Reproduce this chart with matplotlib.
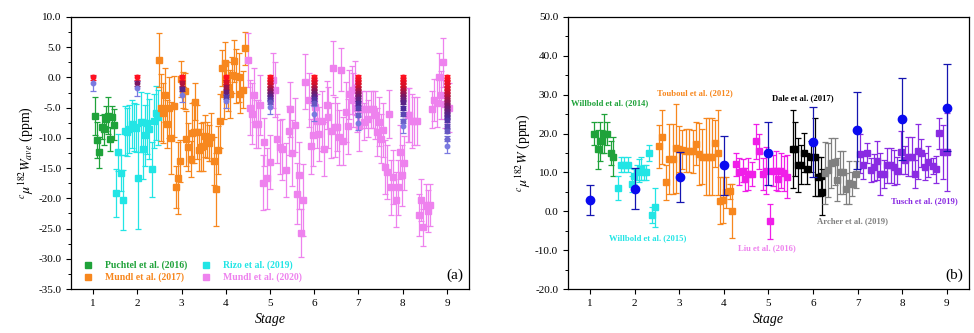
import numpy as np
import matplotlib
matplotlib.use("Agg")
import matplotlib.pyplot as plt
from matplotlib.lines import Line2D
from matplotlib.colors import LinearSegmentedColormap
from matplotlib.ticker import MultipleLocator, FormatStrFormatter

plt.rcParams["font.family"] = "Liberation Serif"
plt.rcParams["mathtext.fontset"] = "stix"
plt.rcParams["font.size"] = 8

# ---------------- panel (a) data ----------------
puchtel_x = [1.05, 1.09, 1.14, 1.19, 1.24, 1.29, 1.34, 1.39, 1.43, 1.48]
puchtel_y = [-6.4, -10.4, -12.4, -8.2, -8.6, -6.8, -6.3, -10.2, -6.5, -7.8]
puchtel_err = [3.2, 3.0, 2.5, 2.0, 2.5, 2.0, 3.0, 2.0, 1.8, 2.5]

rizo_x = [1.52, 1.57, 1.62, 1.67, 1.72, 1.77, 1.82, 1.87, 1.92, 1.97,
          2.02, 2.07, 2.12, 2.17, 2.22, 2.27, 2.32, 2.37, 2.43, 2.47]
rizo_y = [-19.1, -12.4, -15.8, -20.3, -8.8, -9.0, -8.5, -7.7, -8.2, -8.4,
          -16.6, -7.4, -11.8, -9.6, -7.6, -8.5, -15.2, -7.2, -5.9, -6.6]
rizo_err = [4, 3, 3, 5, 4, 4, 4, 4, 4, 4,
            8.5, 5, 5, 5, 5, 5, 4.5, 4.5, 4.5, 4.5]

mundl17_x = [2.49, 2.53, 2.58, 2.63, 2.68, 2.72, 2.77, 2.82, 2.87, 2.92,
             2.96, 2.99, 3.02, 3.07, 3.11, 3.15, 3.21, 3.24, 3.28, 3.31,
             3.35, 3.39, 3.43, 3.48, 3.53, 3.58, 3.63, 3.67, 3.73, 3.77,
             3.82, 3.86, 3.92, 3.95, 3.98, 4.01, 4.04, 4.09, 4.14, 4.19,
             4.24, 4.29, 4.33, 4.38, 4.43]
mundl17_y = [2.9, -5.0, -5.9, -2.9, -7.7, -5.0, -10.0, -4.8, -18.1, -16.6,
             -13.8, -0.2, -2.1, -2.2, -10.1, -11.5, -13.5, -9.2, -9.1, -4.0,
             -9.0, -12.0, -11.5, -11.4, -9.7, -10.4, -10.9, -9.8, -13.8, -18.5,
             -12.0, -7.2, 1.6, -2.8, 2.4, -0.2, -1.5, -2.7, 0.4, 2.7,
             0.2, 0.0, -2.8, -2.0, 4.8]
mundl17_err = [4.5, 5.5, 5, 4.5, 4, 5, 6, 5, 3.5, 6,
               3.5, 3, 3, 3, 4.5, 4, 3, 5, 5, 3,
               4.5, 3.5, 4, 4, 3.5, 3, 3, 4, 4, 6,
               4, 4.5, 3, 4, 3.5, 3, 4, 4, 3, 3.5,
               4.5, 4, 3, 3, 2.7]

mundl20_x = [4.50, 4.54, 4.60, 4.64, 4.68, 4.73, 4.78, 4.84, 4.86, 4.94,
             5.01, 5.06, 5.12, 5.16, 5.22, 5.28, 5.36, 5.42, 5.46, 5.49,
             5.56, 5.60, 5.65, 5.70, 5.75, 5.80, 5.89, 5.92, 5.98, 6.02,
             6.07, 6.11, 6.17, 6.22, 6.28, 6.32, 6.38, 6.42, 6.47, 6.52,
             6.56, 6.61, 6.66, 6.71, 6.76, 6.79, 6.85, 6.88, 6.93, 6.97,
             7.02, 7.08, 7.13, 7.17, 7.22, 7.28, 7.32, 7.37, 7.42, 7.47,
             7.51, 7.56, 7.61, 7.65, 7.70, 7.74, 7.79, 7.84, 7.90, 7.94,
             7.99, 8.04, 8.11, 8.15, 8.21, 8.26, 8.32, 8.37, 8.42, 8.47,
             8.52, 8.57, 8.62, 8.67, 8.72, 8.77, 8.82, 8.86, 8.91, 8.96,
             9.04]
mundl20_y = [2.9, -5.0, -6.0, -2.9, -7.7, -7.7, -4.6, -17.4, -10.7, -16.7,
             -14.0, -0.5, -2.0, -10.1, -11.5, -11.9, -15.3, -8.8, -5.3, -12.5,
             -7.9, -19.2, -16.2, -25.7, -20.3, -0.7, -3.7, -11.4, -9.6, -4.9,
             -7.2, -9.4, -7.2, -11.8, -4.6, -6.6, -8.8, 1.6, -8.2, -8.2,
             -9.9, 1.3, -10.5, -5.7, -8.1, -2.8, -2.1, -3.7, -1.7, -5.1,
             -8.1, -5.3, -7.3, -5.3, -6.8, -5.3, -5.3, -6.2, -9.0, -7.3,
             -10.1, -8.7, -14.8, -15.6, -6.0, -18.2, -16.5, -20.2, -18.2, -12.3,
             -16.2, -14.2, -6.2, -6.2, -7.2, -7.2, -7.2, -22.8, -20.3, -24.8,
             -21.1, -22.1, -21.1, -5.3, -3.7, -4.2, 0.0, -2.9, 2.5, -4.4,
             -5.0]
mundl20_err = [4.5, 4.5, 5, 4.5, 4, 4, 5, 4.5, 4, 5,
               4.5, 4.5, 4.5, 4, 4.5, 5, 4.5, 4, 4.5, 5.5,
               4.5, 5, 5.5, 4, 6, 4.5, 4.5, 4.5, 5, 4.5,
               4.5, 4.5, 5, 4.5, 4, 5, 4.5, 4.5, 5, 4,
               4.5, 3.5, 4, 5, 4.5, 4, 4, 4.5, 4.5, 4,
               4, 3, 3, 3, 3, 3, 3, 4, 4, 4,
               4, 4.5, 4.5, 4.5, 4, 4.5, 4.5, 4.5, 4.5, 4.5,
               5, 4.5, 4.5, 4.5, 4.5, 4, 4, 3.5, 3.5, 3,
               3.5, 3.5, 3.5, 3, 3.5, 4, 4, 4, 4, 4,
               4]

# stacked points at each integer stage
stack_stage = [1, 2, 3, 4, 5, 6, 7, 8, 9]
stack_vals = [
    [0.0, -1.0],
    [0.0, -1.0, -1.8],
    [0.0, -1.0, -1.9, -2.9],
    [0.0, -0.8, -1.6, -2.4, -3.2, -3.9],
    [0.0, -0.5, -1.0, -1.5, -2.0, -2.5, -3.0, -3.5, -4.0, -4.9],
    [0.0, -0.5, -1.0, -1.5, -2.0, -2.5, -3.0, -3.5, -4.2, -6.0],
    [0.0, -0.5, -1.0, -1.5, -2.0, -2.5, -3.0, -3.5, -4.2, -5.0, -6.2, -7.5],
    [0.0, -0.5, -1.0, -1.5, -2.0, -2.5, -3.0, -3.5, -4.0, -5.0, -6.0, -7.2, -8.0],
    [0.0, -0.5, -1.0, -1.5, -2.0, -2.5, -3.0, -3.5, -4.0, -4.5, -5.0, -5.5,
     -6.0, -6.5, -7.0, -8.0, -8.8, -10.1, -11.3],
]

# ---------------- panel (b) data ----------------
blue_x = [1.0, 2.0, 3.02, 4.0, 5.0, 5.99, 6.99, 8.0, 9.0]
blue_y = [2.9, 5.8, 8.8, 11.8, 14.9, 17.8, 20.8, 23.8, 26.7]
blue_err = [3.8, 5.3, 6.5, 7.5, 8.2, 9.0, 9.8, 10.5, 11.2]

w14_x = [1.08, 1.17, 1.22, 1.27, 1.32, 1.37, 1.46, 1.52]
w14_y = [20.0, 16.0, 18.0, 18.0, 20.0, 20.0, 15.0, 14.0]
w14_err = [3, 5, 5, 3, 5, 3, 3, 5]

w15_x = [1.62, 1.70, 1.77, 1.84, 1.93, 1.99, 2.05, 2.10, 2.15, 2.20, 2.25, 2.32, 2.39, 2.46]
w15_y = [6.0, 12.0, 12.0, 12.0, 7.0, 9.0, 10.0, 10.5, 11.0, 10.0, 10.0, 15.0, -1.0, 1.0]
w15_err = [3, 2, 2, 2, 2, 2, 2, 3, 3, 2, 2, 2, 2, 5]

tou_x = [2.55, 2.62, 2.70, 2.77, 2.86, 2.92, 3.00, 3.07, 3.15, 3.22, 3.30, 3.37,
         3.44, 3.52, 3.59, 3.67, 3.74, 3.80, 3.87, 3.92, 3.98, 4.05, 4.13, 4.19]
tou_y = [16.7, 19.1, 7.5, 13.4, 13.4, 16.2, 16.0, 15.8, 15.6, 15.6, 15.4, 17.4,
         14.8, 14.1, 14.1, 14.1, 14.1, 17.5, 15.1, 2.7, 2.9, 4.9, 5.1, 0.1]
tou_err = [5.5, 7, 4.5, 9, 9, 11.5, 6, 5, 5.5, 5.5, 5.5, 5.5,
           8, 7, 10, 10, 10, 6, 11, 6, 6, 4, 2, 7]

liu_x = [4.27, 4.34, 4.42, 4.48, 4.55, 4.62, 4.72, 4.78, 4.88, 4.95, 5.04,
         5.10, 5.17, 5.21, 5.27, 5.34, 5.42]
liu_y = [12.1, 10.2, 10.5, 8.2, 9.6, 9.6, 18.0, 15.4, 9.6, 10.5, -2.5,
         10.5, 10.5, 8.2, 10.5, 9.8, 8.9]
liu_err = [3, 3.5, 3, 3, 4, 3, 4.5, 4.5, 4, 6, 4.5, 4, 5, 3, 4.5, 4.5, 5.5]

dale_x = [5.54, 5.60, 5.66, 5.72, 5.80, 5.87, 5.95, 6.04, 6.11, 6.17, 6.21]
dale_y = [16.0, 16.0, 11.9, 12.0, 15.1, 11.0, 14.0, 14.0, 8.9, 9.0, 5.0]
dale_err = [10, 7, 7, 5, 5, 4, 4, 10, 5, 5, 6]

archer_x = [6.26, 6.34, 6.41, 6.49, 6.53, 6.60, 6.67, 6.73, 6.81, 6.88, 6.96]
archer_y = [9.8, 10.6, 12.4, 12.8, 8.1, 10.0, 10.0, 5.8, 7.4, 7.0, 9.5]
archer_err = [8, 7, 6.5, 6, 5.5, 5.5, 5.5, 4, 5.5, 3, 3.5]

tusch_x = [7.05, 7.12, 7.21, 7.29, 7.36, 7.44, 7.51, 7.59, 7.66, 7.74, 7.81, 7.89, 7.98,
           8.06, 8.13, 8.21, 8.28, 8.36, 8.43, 8.52, 8.58, 8.68, 8.75, 8.83, 8.92, 9.01]
tusch_y = [14.8, 11.8, 15.0, 10.6, 11.3, 13.0, 9.6, 9.6, 11.8, 11.8, 11.3, 10.5, 15.2,
           13.2, 14.1, 14.1, 9.6, 15.4, 15.0, 11.5, 12.8, 11.7, 10.8, 20.1, 15.2, 15.2]
tusch_err = [5, 3.5, 2.5, 3, 3.5, 5, 5.5, 3.5, 4.5, 4.5, 4.5, 3.5, 5.5,
             3.5, 5, 5, 3.5, 7, 3.5, 3.5, 4, 2, 3.5, 4, 7, 10]

GREEN = "#1fa23a"
CYAN = "#22e5e5"
ORANGE = "#f7871e"
VIOLET = "#ee82ee"
MAGENTA = "#f01ee8"
BLACK = "#000000"
GRAY = "#808080"
PURPLE = "#8a2be2"
BLUE = "#0a0af0"

stack_cmap = LinearSegmentedColormap.from_list("stk", ["#ff1020", "#d0102a", "#7a1560", "#4a2a9a", "#7a7ae0"])


def eb(ax, x, y, e, c, marker="s", ms=4.5, ecolor=None, cap=2.2, z=2):
    ax.errorbar(x, y, yerr=e, fmt=marker, color=c, ecolor=ecolor or c, ms=ms,
                elinewidth=0.9, capsize=cap, capthick=0.9, zorder=z)


def style_axes(ax, ylim, major, minor):
    ax.set_xlim(0.5, 9.5)
    ax.set_ylim(*ylim)
    ax.set_xticks(range(1, 10))
    ax.yaxis.set_major_locator(MultipleLocator(major))
    ax.yaxis.set_minor_locator(MultipleLocator(minor))
    ax.yaxis.set_major_formatter(FormatStrFormatter("%.1f"))
    ax.tick_params(axis="both", which="major", direction="out", length=3.5, width=0.8, labelsize=8)
    ax.tick_params(axis="y", which="minor", direction="out", length=2, width=0.7)
    ax.tick_params(top=False, right=False)
    for s in ax.spines.values():
        s.set_linewidth(0.9)
    ax.set_xlabel("Stage", fontstyle="italic", fontsize=10, labelpad=4)


fig = plt.figure(figsize=(9.74, 3.33), dpi=100)
ax1 = fig.add_axes([0.073, 0.132, 0.4085, 0.817])
ax2 = fig.add_axes([0.583, 0.132, 0.412, 0.817])

# ----- (a)
eb(ax1, puchtel_x, puchtel_y, puchtel_err, GREEN)
eb(ax1, rizo_x, rizo_y, rizo_err, CYAN)
eb(ax1, mundl17_x, mundl17_y, mundl17_err, ORANGE)
eb(ax1, mundl20_x, mundl20_y, mundl20_err, VIOLET)
for st, vals in zip(stack_stage, stack_vals):
    n = len(vals)
    for i, v in enumerate(vals):
        frac = i / (n - 1) if n > 1 else 0
        c = stack_cmap(frac)
        err = 1.2 if i == n - 1 else 0.35
        ax1.errorbar([st], [v], yerr=[err], fmt="o", color=c, ms=3.2,
                     elinewidth=0.9, capsize=2.2, capthick=0.9, zorder=3)

style_axes(ax1, (-35, 10), 5, 2.5)
ax1.set_ylabel(r"$^{c}\mu^{182}W_{ave}$ (ppm)", fontsize=10, labelpad=2)
ax1.text(0.985, 0.025, "(a)", transform=ax1.transAxes, ha="right", va="bottom", fontsize=11)

handles = [Line2D([], [], marker="s", ls="none", color=c, ms=4)
           for c in [GREEN, ORANGE, CYAN, VIOLET]]
labels = ["Puchtel et al. (2016)", "Mundl et al. (2017)", "Rizo et al. (2019)", "Mundl et al. (2020)"]
leg = ax1.legend(handles, labels, loc="lower left", ncol=2, frameon=False,
                 prop={"weight": "bold", "size": 7}, handletextpad=0.8,
                 columnspacing=0.9, labelspacing=0.25, borderaxespad=0.3,
                 bbox_to_anchor=(0.0, 0.0))
for t, c in zip(leg.get_texts(), [GREEN, ORANGE, CYAN, VIOLET]):
    t.set_color(c)

# ----- (b)
eb(ax2, w14_x, w14_y, w14_err, GREEN)
eb(ax2, w15_x, w15_y, w15_err, CYAN)
eb(ax2, tou_x, tou_y, tou_err, ORANGE)
eb(ax2, liu_x, liu_y, liu_err, MAGENTA)
eb(ax2, dale_x, dale_y, dale_err, BLACK)
eb(ax2, archer_x, archer_y, archer_err, GRAY)
eb(ax2, tusch_x, tusch_y, tusch_err, PURPLE)
eb(ax2, blue_x, blue_y, blue_err, BLUE, marker="o", ms=6, ecolor="#1515b0", cap=3, z=4)

style_axes(ax2, (-20, 50), 10, 5)
ax2.set_ylabel(r"$^{c}\mu^{182}W$ (ppm)", fontsize=10, labelpad=2)
ax2.text(0.985, 0.025, "(b)", transform=ax2.transAxes, ha="right", va="bottom", fontsize=11)

lab_kw = dict(fontsize=6.2, fontweight="bold", va="center", ha="left")
ax2.text(0.57, 27.7, "Willbold et al. (2014)", color=GREEN, **lab_kw)
ax2.text(2.51, 30.4, "Touboul et al. (2012)", color=ORANGE, **lab_kw)
ax2.text(5.07, 29.1, "Dale et al. (2017)", color=BLACK, **lab_kw)
ax2.text(1.42, -6.9, "Willbold et al. (2015)", color=CYAN, **lab_kw)
ax2.text(4.32, -9.5, "Liu et al. (2016)", color=VIOLET, **lab_kw)
ax2.text(6.08, -2.5, "Archer et al. (2019)", color=GRAY, **lab_kw)
ax2.text(7.74, 2.7, "Tusch et al. (2019)", color=PURPLE, **lab_kw)

fig.savefig("out.png", dpi=100)
